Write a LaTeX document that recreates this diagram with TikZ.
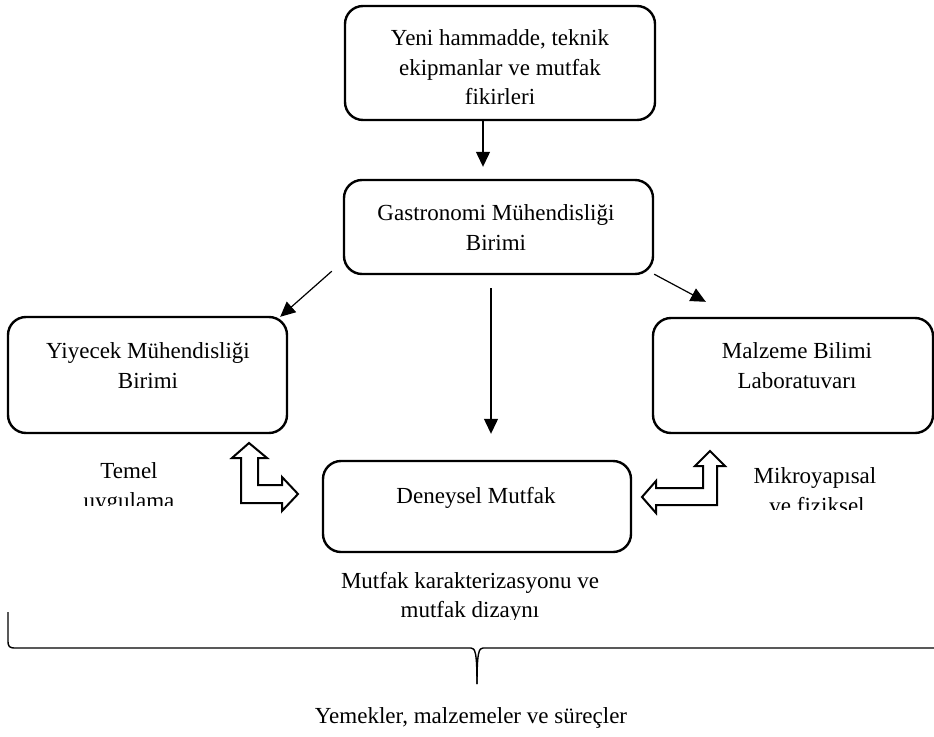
\documentclass[tikz,border=0pt]{standalone}
\usepackage{fontspec}
\setmainfont{Liberation Serif}
\usetikzlibrary{arrows.meta,calc}
\begin{document}
\begin{tikzpicture}[x=1pt,y=-1pt,
  box/.style={draw,line width=2.4pt,rounded corners=18pt,minimum width=#1,inner sep=0pt},
  txt/.style={anchor=base,inner sep=0pt,font=\fontsize{23}{30}\selectfont},
  arr/.style={line width=1.2pt,-{Triangle[length=15pt,width=14pt]}},
  hollow/.style={draw,line width=2pt,line join=miter,fill=white}]
\useasboundingbox (0,0) rectangle (934,736);
% boxes
\node[box=310pt,minimum height=114pt] (top) at (500,63) {};
\node[box=309pt,minimum height=94pt] (gast) at (498.5,227) {};
\node[box=279pt,minimum height=116pt] (yiy) at (147.5,375) {};
\node[box=280pt,minimum height=115pt] (malz) at (793,375.5) {};
\node[box=308pt,minimum height=91pt] (den) at (477,506.5) {};
% box texts
\node[txt] (t1) at (500,45) {Yeni hammadde, teknik};
\node[txt] (t2) at (500,75) {ekipmanlar ve mutfak};
\node[txt] (t3) at (500,104) {fikirleri};
\node[txt] (g1) at (496,220) {Gastronomi Mühendisliği};
\node[txt] (g2) at (496,250) {Birimi};
\node[txt] (y1) at (148,358) {Yiyecek Mühendisliği};
\node[txt] (y2) at (148,388) {Birimi};
\node[txt] (m1) at (797,358) {Malzeme Bilimi};
\node[txt] (m2) at (797,388) {Laboratuvarı};
\node[txt] (d1) at (476,503) {Deneysel Mutfak};
% clipped labels
\begin{scope}
\clip (60,440) rectangle (200,505);
\node[txt] (l1) at (129,478) {Temel};
\node[txt] (l2) at (129,508) {uygulama};
\end{scope}
\begin{scope}
\clip (740,440) rectangle (934,509);
\node[txt] (r1) at (815,483) {Mikroyapısal};
\node[txt] (r2) at (817,513) {ve fiziksel};
\end{scope}
\begin{scope}
\clip (300,560) rectangle (650,619);
\node[txt] (c1) at (470,588) {Mutfak karakterizasyonu ve};
\node[txt] (c2) at (470,617) {mutfak dizaynı};
\end{scope}
\node[txt] (b1) at (471,723) {Yemekler, malzemeler ve süreçler};
% connectors
\draw[arr] ($(top.south)+(-17,0)$) -- ($(gast.north)+(-15.5,-12)$);
\draw[arr] ($(gast.south)+(-7.5,13)$) -- ($(den.north)+(14,-26)$);
\draw[arr] ($(gast.south west)+(-11,-4)$) -- ($(yiy.north east)+(-8,1)$);
\draw[arr] ($(gast.south east)+(0,-1)$) -- ($(malz.north west)+(54,-15)$);
% hollow bent arrows
\draw[hollow] (241,458) -- (232,458) -- (249,443) -- (267,458) -- (258,458) -- (258,485)
  -- (282,485) -- (282,477) -- (298,494) -- (282,511) -- (282,503) -- (241,503) -- cycle;
\draw[hollow] (703,466) -- (695,466) -- (710,451) -- (725,466) -- (717,466) -- (717,505)
  -- (656,505) -- (656,513) -- (642,497) -- (656,481) -- (656,488) -- (703,488) -- cycle;
% brace
\coordinate (bl) at (8,612);
\coordinate (bt) at (477,684);
\coordinate (br) at (940,648);
\draw[line width=1.4pt] (bl) -- (8,640) .. controls (8,647) and (9,648) .. (16,648)
  -- (471,648) .. controls (475,648) and (477,652) .. (bt);
\draw[line width=1.4pt] (bt) .. controls (477,652) and (479,648) .. (483,648) -- (br);
\end{tikzpicture}
\end{document}
